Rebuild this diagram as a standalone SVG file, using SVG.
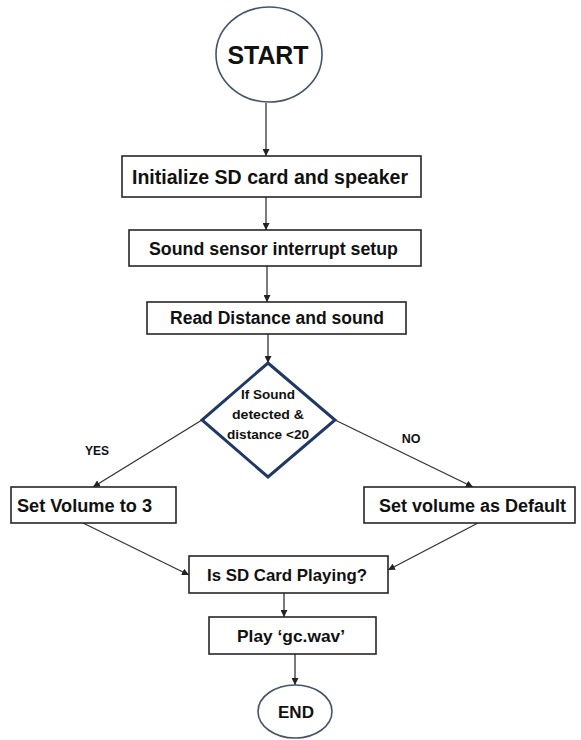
<svg xmlns="http://www.w3.org/2000/svg" width="581" height="740" viewBox="0 0 581 740">
<defs>
<marker id="arr" viewBox="0 0 8 8" refX="8" refY="4" markerWidth="7" markerHeight="7" markerUnits="userSpaceOnUse" orient="auto">
<path d="M0,0 L8,4 L0,8 z" fill="#222"/>
</marker>
<style>
.box{fill:#fff;stroke:#262626;stroke-width:1.6}
.term{fill:#fff;stroke:#44546a;stroke-width:1.6}
.dia{fill:#fff;stroke:#1f3864;stroke-width:3}
.t{font-family:"Liberation Sans",Arial,sans-serif;font-weight:bold;fill:#111;text-anchor:middle}
.c{fill:none;stroke:#333;stroke-width:1.3;marker-end:url(#arr)}
</style>
</defs>
<rect width="581" height="740" fill="#fff"/>
<g id="connectors">
<line class="c" x1="266" y1="103" x2="266" y2="156"/>
<line class="c" x1="266" y1="197" x2="266" y2="230"/>
<line class="c" x1="267" y1="266" x2="267" y2="302"/>
<line class="c" x1="268" y1="334" x2="268" y2="363"/>
<line class="c" x1="202" y1="420" x2="93" y2="487"/>
<line class="c" x1="335" y1="420" x2="473" y2="487"/>
<line class="c" x1="83" y1="523" x2="189" y2="575"/>
<line class="c" x1="478" y1="523" x2="388" y2="570"/>
<line class="c" x1="284" y1="593" x2="284" y2="617"/>
<line class="c" x1="295" y1="654" x2="295" y2="685"/>
<text class="t" x="97" y="455" font-size="12">YES</text>
<text class="t" x="411" y="442.5" font-size="12.5">NO</text>
</g>
<g id="start">
<ellipse class="term" cx="269" cy="54.5" rx="53" ry="47.5"/>
<text class="t" x="268" y="64" font-size="25" textLength="81" lengthAdjust="spacingAndGlyphs">START</text>
</g>
<g id="init">
<rect class="box" x="122" y="156" width="299" height="41"/>
<text class="t" x="270" y="184" font-size="19.5" textLength="276" lengthAdjust="spacingAndGlyphs">Initialize SD card and speaker</text>
</g>
<g id="sensor">
<rect class="box" x="129" y="230" width="292" height="36"/>
<text class="t" x="273.5" y="254.5" font-size="17.8" textLength="249" lengthAdjust="spacingAndGlyphs">Sound sensor interrupt setup</text>
</g>
<g id="read">
<rect class="box" x="147" y="302" width="259" height="32"/>
<text class="t" x="277" y="324" font-size="17.5" textLength="214" lengthAdjust="spacingAndGlyphs">Read Distance and sound</text>
</g>
<g id="decision">
<polygon class="dia" points="268,363 335,420 268,477 202,420"/>
<text class="t" x="268" y="399" font-size="12" textLength="54" lengthAdjust="spacingAndGlyphs">If Sound</text>
<text class="t" x="268" y="419" font-size="12" textLength="72" lengthAdjust="spacingAndGlyphs">detected &amp;</text>
<text class="t" x="268" y="438.5" font-size="12" textLength="82" lengthAdjust="spacingAndGlyphs">distance &lt;20</text>
</g>
<g id="vol3">
<rect class="box" x="11" y="487" width="165" height="36"/>
<text class="t" x="84.5" y="511.5" font-size="18" textLength="135" lengthAdjust="spacingAndGlyphs">Set Volume to 3</text>
</g>
<g id="default">
<rect class="box" x="364" y="487" width="211" height="36"/>
<text class="t" x="472.5" y="511.5" font-size="18" textLength="187" lengthAdjust="spacingAndGlyphs">Set volume as Default</text>
</g>
<g id="sdplaying">
<rect class="box" x="189" y="556" width="199" height="37"/>
<text class="t" x="287" y="581" font-size="17" textLength="160" lengthAdjust="spacingAndGlyphs">Is SD Card Playing?</text>
</g>
<g id="play">
<rect class="box" x="209" y="617" width="167" height="37"/>
<text class="t" x="291" y="642" font-size="17.3" textLength="108" lengthAdjust="spacingAndGlyphs">Play ‘gc.wav’</text>
</g>
<g id="end">
<ellipse class="term" cx="295" cy="711.5" rx="37" ry="26.5"/>
<text class="t" x="296" y="718" font-size="17" textLength="36" lengthAdjust="spacingAndGlyphs">END</text>
</g>
</svg>
